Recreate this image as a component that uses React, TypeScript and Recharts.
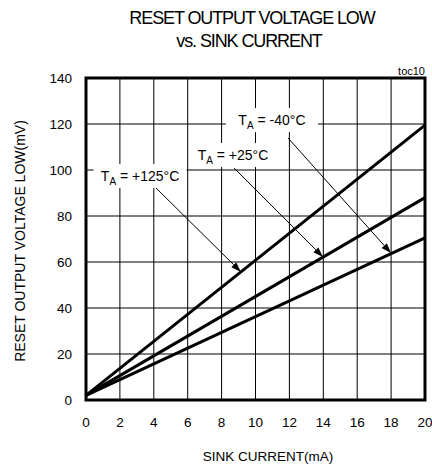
import React from "react";
import {
  LineChart,
  Line,
  XAxis,
  YAxis,
  CartesianGrid,
  ReferenceArea,
  ReferenceLine,
  ReferenceDot,
} from "recharts";

// ---- data ----
const currentMA = [0, 20];
const vLow125 = [2, 119.5];
const vLow25 = [2, 88];
const vLowM40 = [2, 70.5];
const xTicks = [0, 2, 4, 6, 8, 10, 12, 14, 16, 18, 20];
const yTicks = [0, 20, 40, 60, 80, 100, 120, 140];
const tempLabels = ["-40\u00B0C", "+25\u00B0C", "+125\u00B0C"];
const labelAnchorX = [10.97, 8.67, 3.19];
const labelAnchorY = [121.7, 106.5, 97.4];
const labelBoxW = [92, 76, 93];
const arrowFromX = [11.92, 8.73, 3.95];
const arrowFromY = [113.9, 100.9, 93.5];
const arrowToX = [17.99, 13.98, 9.14];
const arrowToY = [63.9, 62.2, 55.7];

const chartData = currentMA.map((x, i) => ({
  x,
  t125: vLow125[i],
  t25: vLow25[i],
  tm40: vLowM40[i],
}));

const FONT = "'Liberation Sans', Arial, sans-serif";

const makeLabelShape = (text: string, w: number) => (props: any) => {
  const { cx, cy } = props;
  return (
    <g>
      <rect x={cx - w / 2} y={cy - 12} width={w} height={24} fill="#fff" />
      <text
        x={cx}
        y={cy + 5}
        textAnchor="middle"
        fontSize={14}
        fontFamily={FONT}
        fill="#000"
      >
        T
        <tspan fontSize={10} dy={4}>
          A
        </tspan>
        <tspan dy={-4}>{" = " + text}</tspan>
      </text>
    </g>
  );
};

const arrowShape = (props: any) => {
  const { x1, y1, x2, y2 } = props;
  const dx = x2 - x1;
  const dy = y2 - y1;
  const len = Math.sqrt(dx * dx + dy * dy) || 1;
  const ux = dx / len;
  const uy = dy / len;
  const hl = 10;
  const hw = 3.5;
  const bx = x2 - ux * hl;
  const by = y2 - uy * hl;
  const pts = `${x2},${y2} ${bx - uy * hw},${by + ux * hw} ${bx + uy * hw},${by - ux * hw}`;
  return (
    <g>
      <line x1={x1} y1={y1} x2={bx} y2={by} stroke="#000" strokeWidth={1} />
      <polygon points={pts} fill="#000" />
    </g>
  );
};

export default function App() {
  return (
    <div
      style={{
        position: "absolute",
        left: 0,
        top: 0,
        width: 432,
        height: 465,
        background: "#fff",
      }}
    >
      <LineChart
        width={432}
        height={465}
        data={chartData}
        margin={{ top: 78, right: 7, bottom: 35, left: 0 }}
      >
        <CartesianGrid stroke="#000" strokeWidth={1} />
        <XAxis
          dataKey="x"
          type="number"
          domain={[0, 20]}
          ticks={xTicks}
          interval={0}
          height={30}
          tickSize={0}
          tickMargin={17}
          axisLine={false}
          tick={{ fontSize: 13.5, fill: "#000", fontFamily: FONT }}
        />
        <YAxis
          type="number"
          domain={[0, 140]}
          ticks={yTicks}
          interval={0}
          width={86}
          tickSize={0}
          tickMargin={14}
          axisLine={false}
          tick={{ fontSize: 13.5, fill: "#000", fontFamily: FONT }}
        />
        <Line
          dataKey="t125"
          type="linear"
          stroke="#000"
          strokeWidth={3}
          dot={false}
          isAnimationActive={false}
        />
        <Line
          dataKey="t25"
          type="linear"
          stroke="#000"
          strokeWidth={3}
          dot={false}
          isAnimationActive={false}
        />
        <Line
          dataKey="tm40"
          type="linear"
          stroke="#000"
          strokeWidth={3}
          dot={false}
          isAnimationActive={false}
        />
        <ReferenceArea
          x1={0}
          x2={20}
          y1={0}
          y2={140}
          fill="none"
          fillOpacity={0}
          stroke="#000"
          strokeWidth={3}
          ifOverflow="visible"
        />
        {tempLabels.map((t, i) => (
          <ReferenceDot
            key={"lbl" + i}
            x={labelAnchorX[i]}
            y={labelAnchorY[i]}
            r={1}
            shape={makeLabelShape(t, labelBoxW[i])}
          />
        ))}
        {tempLabels.map((t, i) => (
          <ReferenceLine
            key={"arr" + i}
            segment={[
              { x: arrowFromX[i], y: arrowFromY[i] },
              { x: arrowToX[i], y: arrowToY[i] },
            ]}
            shape={arrowShape}
          />
        ))}
      </LineChart>
      <svg
        width={432}
        height={465}
        style={{ position: "absolute", left: 0, top: 0, pointerEvents: "none" }}
      >
        <text
          x={252}
          y={24}
          textAnchor="middle"
          fontSize={18}
          letterSpacing={-1.1}
          fontFamily={FONT}
          fill="#000"
        >
          RESET OUTPUT VOLTAGE LOW
        </text>
        <text
          x={249}
          y={47}
          textAnchor="middle"
          fontSize={18}
          letterSpacing={-1.1}
          fontFamily={FONT}
          fill="#000"
        >
          vs. SINK CURRENT
        </text>
        <text
          x={425}
          y={75}
          textAnchor="end"
          fontSize={11}
          fontFamily={FONT}
          fill="#000"
        >
          toc10
        </text>
        <text
          x={268}
          y={461}
          textAnchor="middle"
          fontSize={13.5}
          fontFamily={FONT}
          fill="#000"
        >
          SINK CURRENT(mA)
        </text>
        <text
          x={25}
          y={241}
          textAnchor="middle"
          fontSize={14}
          fontFamily={FONT}
          fill="#000"
          transform="rotate(-90 25 241)"
        >
          RESET OUTPUT  VOLTAGE LOW(mV)
        </text>
      </svg>
    </div>
  );
}
